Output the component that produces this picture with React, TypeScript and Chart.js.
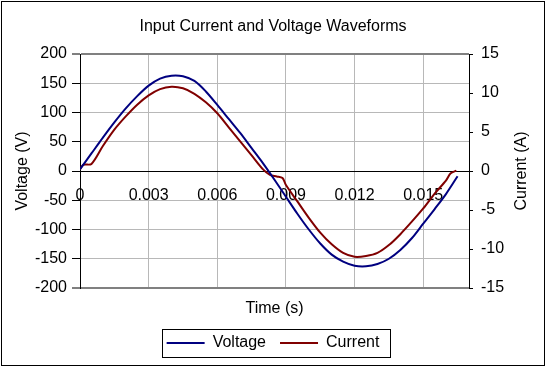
import React, { useEffect, useRef } from 'react';
import { Chart, registerables } from 'chart.js';

Chart.register(...registerables);

const FONT = "'Liberation Sans', Arial, sans-serif";
Chart.defaults.font.family = FONT;
Chart.defaults.font.size = 16;
Chart.defaults.color = '#000';

const TITLE = 'Input Current and Voltage Waveforms';
const X_TITLE = 'Time (s)';
const Y_LEFT_TITLE = 'Voltage (V)';
const Y_RIGHT_TITLE = 'Current (A)';
const SERIES_NAMES = ['Voltage', 'Current'];

const X_TICKS = [0, 0.003, 0.006, 0.009, 0.012, 0.015];
const X_TICK_LABELS = ['0', '0.003', '0.006', '0.009', '0.012', '0.015'];

const TIME_V = [
  0, 0.0005, 0.001, 0.0015, 0.002, 0.0025, 0.003, 0.0035, 0.004, 0.0045,
  0.005, 0.0055, 0.006, 0.0065, 0.007, 0.0075, 0.008, 0.0085, 0.009, 0.0095,
  0.01, 0.0105, 0.011, 0.0115, 0.012, 0.0125, 0.013, 0.0135, 0.014, 0.0145,
  0.015, 0.0155, 0.016, 0.0165,
];
const VOLTAGE = [
  3, 30, 57, 83, 107, 128, 146, 158, 163, 162,
  154, 136, 113, 89, 65, 39, 13, -15, -44, -73,
  -100, -124, -143, -155, -162, -163, -159, -150, -135, -115,
  -90, -65, -39, -9,
];

const TIME_I = [
  0, 0.00015, 0.0005, 0.001, 0.0015, 0.002, 0.0025, 0.003, 0.0035, 0.004,
  0.0045, 0.005, 0.0055, 0.006, 0.0065, 0.007, 0.0075, 0.008, 0.0083, 0.0086,
  0.00885, 0.009, 0.0095, 0.01, 0.0105, 0.011, 0.0115, 0.012, 0.0125, 0.013,
  0.0135, 0.014, 0.0145, 0.015, 0.0155, 0.016, 0.0162, 0.01645,
];
const CURRENT = [
  0.2, 0.8, 0.9, 3.2, 5.3, 7.0, 8.5, 9.7, 10.5, 10.8,
  10.6, 9.9, 8.8, 7.4, 5.6, 3.8, 2.0, 0.2, -0.5, -0.7,
  -0.9, -1.8, -3.9, -6.0, -7.9, -9.4, -10.5, -11.0, -10.9, -10.5,
  -9.5, -8.1, -6.5, -4.8, -2.9, -1.2, -0.3, 0.05,
];

const framePlugin = {
  id: 'frame',
  afterDraw(chart: any) {
    const { ctx, chartArea } = chart;
    ctx.save();
    // right axis title, reading bottom-to-top
    ctx.fillStyle = '#000';
    ctx.font = `16px ${FONT}`;
    ctx.textAlign = 'center';
    ctx.textBaseline = 'middle';
    ctx.translate(chartArea.right + 52.5, (chartArea.top + chartArea.bottom) / 2);
    ctx.rotate(-Math.PI / 2);
    ctx.fillText(Y_RIGHT_TITLE, 0, 0);
    ctx.restore();

    ctx.save();
    ctx.strokeStyle = '#000';
    ctx.lineWidth = 1;
    const hb = chart.legend && chart.legend.legendHitBoxes;
    if (hb && hb.length) {
      const first = hb[0];
      const last = hb[hb.length - 1];
      const cy = first.top + first.height / 2;
      const l = Math.round(first.left - 5) + 0.5;
      const r = Math.round(last.left + last.width + 11) + 0.5;
      const t = Math.round(cy - 14) + 0.5;
      const b = Math.round(cy + 14) + 0.5;
      ctx.strokeRect(l, t, r - l, b - t);
    }
    ctx.strokeRect(1.5, 1.5, 543, 364);
    ctx.restore();
  },
};

export default function App() {
  const ref = useRef<HTMLCanvasElement>(null);

  useEffect(() => {
    document.body.style.margin = '0';
    const canvas = ref.current;
    if (!canvas) return;
    const chart = new Chart(canvas, {
      type: 'line',
      data: {
        datasets: [
          {
            label: SERIES_NAMES[0],
            data: TIME_V.map((t, i) => ({ x: t, y: VOLTAGE[i] })),
            borderColor: '#000080',
            backgroundColor: '#000080',
            borderWidth: 2,
            pointRadius: 0,
            tension: 0.3,
            xAxisID: 'x',
            yAxisID: 'y',
          },
          {
            label: SERIES_NAMES[1],
            data: TIME_I.map((t, i) => ({ x: t, y: CURRENT[i] })),
            borderColor: '#800000',
            backgroundColor: '#800000',
            borderWidth: 2,
            pointRadius: 0,
            tension: 0.3,
            xAxisID: 'x',
            yAxisID: 'y1',
          },
        ],
      },
      options: {
        responsive: false,
        animation: false,
        devicePixelRatio: 1,
        layout: { padding: { left: 8, right: 8, top: 2, bottom: 7 } },
        plugins: {
          title: {
            display: true,
            text: TITLE,
            color: '#000',
            font: { size: 16, weight: 'normal' },
            padding: { top: 15, bottom: 17.8 },
          },
          legend: {
            position: 'bottom',
            labels: {
              usePointStyle: true,
              pointStyle: 'line',
              pointStyleWidth: 38,
              padding: 14,
              color: '#000',
              font: { size: 16 },
            },
          },
          tooltip: { enabled: false },
        },
        scales: {
          x: {
            type: 'linear',
            min: 0,
            max: 0.017,
            position: { y: 0 },
            afterBuildTicks: (s: any) => {
              s.ticks = X_TICKS.map((v) => ({ value: v }));
            },
            ticks: {
              callback: (_v: any, i: number) => X_TICK_LABELS[i],
              padding: 15,
              maxRotation: 0,
              autoSkip: false,
              color: '#000',
              font: { size: 16 },
            },
            grid: {
              color: (c: any) => (c.index === 0 ? 'rgba(0,0,0,0)' : '#b8b8b8'),
              lineWidth: 1,
              drawTicks: false,
            },
            border: { display: true, color: '#000', width: 1 },
          },
          x2: {
            type: 'linear',
            position: 'bottom',
            min: 0,
            max: 1,
            ticks: { display: false },
            grid: { display: false },
            border: { display: false },
            title: {
              display: true,
              text: X_TITLE,
              color: '#000',
              font: { size: 16 },
              padding: { top: 0, bottom: 2.4 },
            },
            afterFit: (s: any) => {
              s.height = 33;
            },
          },
          y: {
            type: 'linear',
            position: 'left',
            min: -200,
            max: 200,
            ticks: { stepSize: 50, padding: 5, color: '#000', font: { size: 16 } },
            grid: {
              color: (c: any) => {
                const v = c.tick ? c.tick.value : 1;
                if (v === 0) return '#000';
                if (Math.abs(v) === 200) return '#808080';
                return '#b8b8b8';
              },
              lineWidth: (c: any) => (c.tick && Math.abs(c.tick.value) === 200 ? 2 : 1),
              tickLength: 8,
              tickColor: '#000',
              tickWidth: 1,
            },
            border: { color: '#000', width: 1 },
            title: {
              display: true,
              text: Y_LEFT_TITLE,
              color: '#000',
              font: { size: 16 },
              padding: { top: 5, bottom: 0 },
            },
            afterFit: (s: any) => {
              s.width = 72;
            },
          },
          y1: {
            type: 'linear',
            position: 'right',
            min: -15,
            max: 15,
            ticks: { stepSize: 5, padding: 8, color: '#000', font: { size: 16 } },
            grid: {
              drawOnChartArea: false,
              tickLength: 4,
              tickColor: '#000',
              tickWidth: 1,
              color: '#000',
            },
            border: { color: '#000', width: 1 },
            afterFit: (s: any) => {
              s.width = 69;
            },
          },
        },
      } as any,
      plugins: [framePlugin],
    });
    return () => chart.destroy();
  }, []);

  return (
    <div style={{ width: 546, height: 368 }}>
      <canvas ref={ref} width={546} height={368} style={{ display: 'block' }} />
    </div>
  );
}
